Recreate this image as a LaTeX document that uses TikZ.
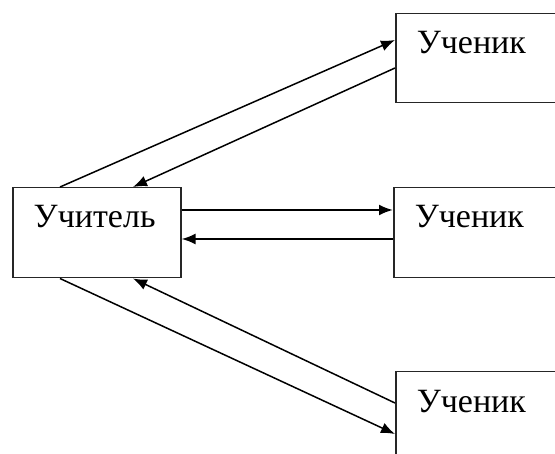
\documentclass[tikz,border=0pt]{standalone}
\usepackage{fontspec}
\setmainfont{Liberation Serif}
\usetikzlibrary{arrows.meta,calc}
\begin{document}
\begin{tikzpicture}[x=1pt,y=-1pt,
  box/.style={draw=black!85,line width=1.5pt,inner ysep=0pt,font=\fontsize{34}{40}\selectfont},
  stud/.style={box,anchor=north west,text width=160pt,inner xsep=21pt,align=left},
  conn/.style={line width=1.5pt,-{Latex[length=14pt,width=11pt]}},
  hconn/.style={conn,line width=2.2pt}]
\useasboundingbox (0,0) rectangle (555,454);
\clip (0,0) rectangle (555,454);
\fill[white] (0,0) rectangle (555,454);
\node[box,anchor=north west,text width=126pt,inner xsep=21pt,align=left,text height=40pt,text depth=50pt] (T) at (12,187) {Учитель};
\node[stud,text height=40pt,text depth=49pt] (S1) at (395,13) {Ученик};
\node[stud,text height=40pt,text depth=50pt] (S2) at (393,187) {Ученик};
\node[stud,text height=41pt,text depth=70pt] (S3) at (395,371) {Ученик};
\draw[conn] ($(T.north west)+(48,0)$) -- ($(S1.north west)+(0,27)$);
\draw[conn] ($(S1.north west)+(0,55)$) -- ($(T.north west)+(121,0)$);
\draw[hconn] ($(T.north east)+(0,23)$) -- ($(S2.north west)+(0,23)$);
\draw[hconn] ($(S2.north west)+(0,52)$) -- ($(T.north east)+(0,52)$);
\draw[conn] ($(T.south west)+(48,0)$) -- ($(S3.north west)+(0,63)$);
\draw[conn] ($(S3.north west)+(0,32)$) -- ($(T.south west)+(121,0)$);
\end{tikzpicture}
\end{document}
